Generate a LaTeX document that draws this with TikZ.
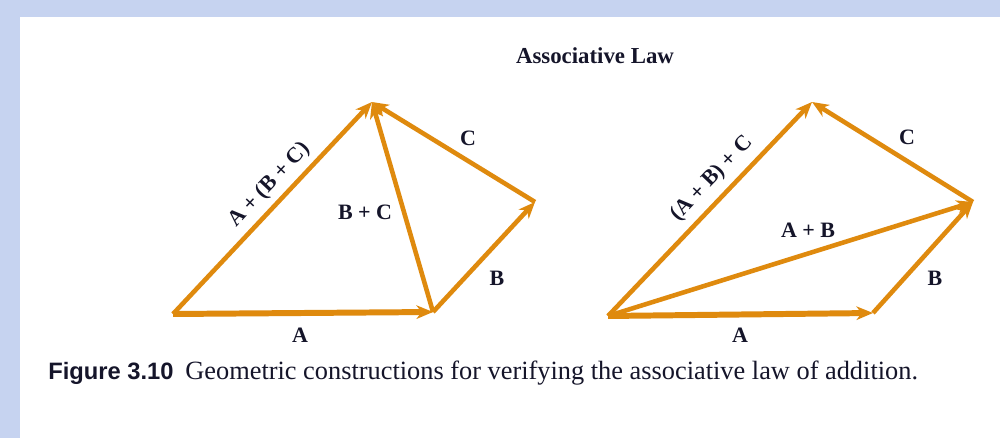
\documentclass[tikz,border=0pt]{standalone}
\usepackage{fontspec}
\setmainfont{Liberation Serif}
\setsansfont{Liberation Sans}
\usetikzlibrary{arrows.meta,positioning,calc}
\definecolor{vecorange}{HTML}{DF8A0E}
\definecolor{frameblue}{HTML}{C6D3F0}
\definecolor{ink}{HTML}{15152A}
\tikzset{
  vecarr/.style={-{Stealth[length=3.3mm,width=2.7mm,inset=1mm]},
                 line width=2.6pt,color=vecorange},
  basearr/.style={vecarr,line width=3.4pt},
  veclbl/.style={font=\fontsize{12.5}{14}\selectfont\bfseries,
                 text=ink,inner sep=1pt}
}

\begin{document}
\begin{tikzpicture}[x=0.02cm,y=-0.02cm]

  % Page frame
  \fill[frameblue] (0,0) rectangle (1000,438);
  \fill[white] (20,17) rectangle (1000,438);
  \useasboundingbox (0,0) rectangle (1000,438);

  \node[font=\fontsize{13}{15}\selectfont\bfseries,text=ink] (title) at (595,56) {Associative Law};

  % Left construction: A + (B + C)
  \coordinate (o1) at (173,314);
  \coordinate (p1) at (433,312);
  \coordinate (q1) at (535,202);
  \coordinate (r1) at (372,102);

  \draw[basearr] (o1) -- (p1);
  \draw[vecarr] (p1) -- (q1);
  \draw[vecarr] (q1) -- (r1);
  \draw[vecarr] (p1) -- (r1);
  \draw[vecarr] (o1) -- (r1);

  \node[veclbl] (la1) at (300,335) {A};
  \node[veclbl] (lb1) at (497,278) {B};
  \node[veclbl] (lc1) at (468,138) {C};
  \node[veclbl] (lbc1) at (365,212) {B + C};
  \node[veclbl,rotate=46.8] (labc1) at (270,185) {A + (B + C)};

  % Right construction: (A + B) + C
  \coordinate (o2) at (608,316);
  \coordinate (p2) at (873,313);
  \coordinate (q2) at (973,202);
  \coordinate (r2) at (812,102);

  \draw[basearr] (o2) -- (p2);
  \draw[vecarr] (p2) -- (q2);
  \draw[vecarr] (o2) -- (q2);
  \draw[vecarr] (q2) -- (r2);
  \draw[vecarr] (o2) -- (r2);

  \node[veclbl] (la2) at (740,335) {A};
  \node[veclbl] (lb2) at (935,278) {B};
  \node[veclbl] (lc2) at (907,137) {C};
  \node[veclbl] (lab2) at (808,230) {A + B};
  \node[veclbl,rotate=46.6] (labc2) at (712,179) {(A + B) + C};

  % Caption
  \node[anchor=base west,inner sep=0pt,text=ink] (caption) at (48,380)
    {\fontsize{13.5}{16}\selectfont\sffamily\bfseries Figure 3.10\hspace{0.5em}%
     \fontsize{15}{17}\selectfont\rmfamily\mdseries Geometric constructions for verifying the associative law of addition.};
\end{tikzpicture}
\end{document}
